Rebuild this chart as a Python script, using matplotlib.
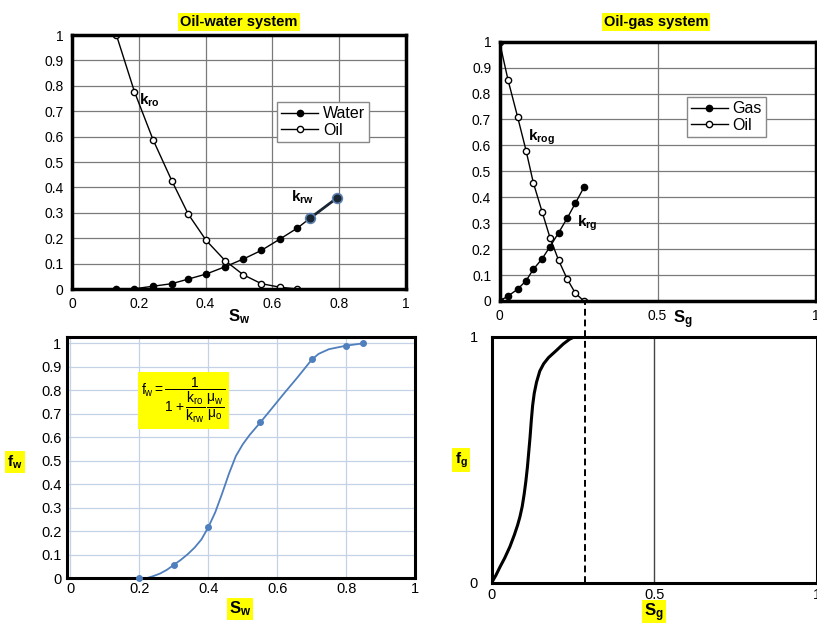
import matplotlib.pyplot as plt
from matplotlib.ticker import FormatStrFormatter, MultipleLocator

plt.rcParams['font.family'] = ['Liberation Sans', 'DejaVu Sans']
plt.rcParams['mathtext.fontset'] = 'custom'
plt.rcParams['mathtext.rm'] = 'Liberation Sans'
plt.rcParams['mathtext.it'] = 'Liberation Sans'
plt.rcParams['mathtext.bf'] = 'Liberation Sans:bold'

# Нефть-вода: относительные проницаемости
sw = [0.133, 0.187, 0.243, 0.299, 0.348, 0.402, 0.459, 0.513, 0.567, 0.623, 0.675]
kro = [1.0, 0.777, 0.587, 0.426, 0.295, 0.191, 0.111, 0.056, 0.021, 0.007, 0.0]
sw_water = [0.133, 0.187, 0.243, 0.299, 0.348, 0.402, 0.459, 0.513, 0.567, 0.623, 0.675, 0.713, 0.793]
krw = [0.0, 0.001, 0.011, 0.021, 0.039, 0.059, 0.088, 0.118, 0.152, 0.197, 0.240, 0.279, 0.358]

# Нефть-газ: относительные проницаемости
sg = [0.0, 0.027, 0.057, 0.084, 0.107, 0.135, 0.16, 0.187, 0.214, 0.24, 0.267]
krog = [1.0, 0.852, 0.711, 0.580, 0.456, 0.343, 0.243, 0.157, 0.085, 0.030, 0.0]
krg = [0.0, 0.019, 0.045, 0.078, 0.122, 0.163, 0.210, 0.263, 0.319, 0.377, 0.438]

# Доля воды в потоке (точки и кривая)
sw_pts = [0.2, 0.3, 0.4, 0.55, 0.7, 0.8, 0.85]
fw_pts = [0.0, 0.057, 0.217, 0.665, 0.933, 0.99, 1.0]
sw_curve = [0.20, 0.22, 0.24, 0.26, 0.28, 0.30, 0.32, 0.34, 0.36, 0.38, 0.40, 0.42, 0.44,
            0.46, 0.48, 0.50, 0.52, 0.552, 0.58, 0.62, 0.66, 0.70, 0.72, 0.75, 0.80, 0.85]
fw_curve = [-0.008, 0.0, 0.009, 0.020, 0.036, 0.057, 0.078, 0.102, 0.130, 0.165, 0.217, 0.280, 0.360,
            0.445, 0.520, 0.570, 0.610, 0.665, 0.715, 0.787, 0.857, 0.930, 0.955, 0.975, 0.990, 1.0]

# Доля газа в потоке
sg_curve = [0.0, 0.013, 0.026, 0.04, 0.056, 0.07, 0.08, 0.087, 0.094, 0.100, 0.105, 0.110, 0.114,
            0.118, 0.122, 0.126, 0.131, 0.138, 0.148, 0.16, 0.175, 0.20, 0.22, 0.24, 0.256, 0.286]
fg_curve = [0.0, 0.03, 0.065, 0.10, 0.146, 0.195, 0.235, 0.268, 0.31, 0.36, 0.41, 0.47, 0.53,
            0.59, 0.66, 0.72, 0.77, 0.815, 0.86, 0.89, 0.915, 0.945, 0.97, 0.99, 1.0, 1.0]
sg_end = 0.286

fig = plt.figure(figsize=(8.17, 6.23), dpi=100)
ax1 = fig.add_axes([0.0881, 0.5361, 0.4088, 0.4077])
ax2 = fig.add_axes([0.6114, 0.5169, 0.3868, 0.4162])
ax3 = fig.add_axes([0.0820, 0.0718, 0.4260, 0.3873])
ax4 = fig.add_axes([0.6018, 0.0647, 0.3978, 0.3949])

hl = dict(facecolor='yellow', edgecolor='none', pad=1.5)
leg_kw = dict(loc='upper left', fontsize=11.5, fancybox=False, edgecolor='#888888', framealpha=1,
              borderpad=0.25, handlelength=2.3, handletextpad=0.3, labelspacing=0.1, borderaxespad=0)

# --- Oil-water system ---
ax1.plot(sw_water, krw, '-o', color='black', lw=1, ms=4.5, label='Water')
ax1.plot(sw, kro, '-o', color='black', lw=1, ms=4.5, mfc='white', mec='black', label='Oil')
ax1.plot(sw_water[-2:], krw[-2:], '-o', color='#1b2633', lw=2, ms=7, mec='#5b7fb0', mew=1.2)
ax1.set_xlim(0, 1)
ax1.set_ylim(0, 1)
ax1.xaxis.set_major_locator(MultipleLocator(0.2))
ax1.yaxis.set_major_locator(MultipleLocator(0.1))
ax1.text(0.2, 0.744, r'$\mathbf{k_{ro}}$', fontsize=11, ha='left', va='center')
ax1.text(0.655, 0.362, r'$\mathbf{k_{rw}}$', fontsize=11, ha='left', va='center')
ax1.text(0.5, -0.11, r'$\mathbf{S_w}$', fontsize=12, ha='center', va='center', transform=ax1.transAxes)
ax1.legend(bbox_to_anchor=(0.615, 0.735), **leg_kw)
fig.text(239 / 817, 1 - 22 / 623, 'Oil-water system', fontsize=10.5, fontweight='bold',
         ha='center', va='center', bbox=hl)

# --- Oil-gas system ---
ax2.plot(sg, krg, '-o', color='black', lw=1, ms=4.5, label='Gas')
ax2.plot(sg, krog, '-o', color='black', lw=1, ms=4.5, mfc='white', mec='black', label='Oil')
ax2.set_xlim(0, 1)
ax2.set_ylim(0, 1)
ax2.xaxis.set_major_locator(MultipleLocator(0.5))
ax2.yaxis.set_major_locator(MultipleLocator(0.1))
ax2.text(0.09, 0.63, r'$\mathbf{k_{rog}}$', fontsize=11, ha='left', va='center')
ax2.text(0.245, 0.30, r'$\mathbf{k_{rg}}$', fontsize=11, ha='left', va='center')
ax2.text(0.58, -0.073, r'$\mathbf{S_g}$', fontsize=12, ha='center', va='center', transform=ax2.transAxes)
ax2.legend(bbox_to_anchor=(0.593, 0.785), **leg_kw)
fig.text(656 / 817, 1 - 22 / 623, 'Oil-gas system', fontsize=10.5, fontweight='bold',
         ha='center', va='center', bbox=hl)

for ax in (ax1, ax2):
    ax.grid(True, color='#7a7a7a', lw=0.9)
    ax.set_axisbelow(True)
    ax.xaxis.set_major_formatter(FormatStrFormatter('%g'))
    ax.yaxis.set_major_formatter(FormatStrFormatter('%g'))
    ax.tick_params(length=0, labelsize=10, pad=6)
    for s in ax.spines.values():
        s.set_linewidth(2.5)

# --- fw ---
ax3.plot(sw_curve, fw_curve, '-', color='#4f7fbd', lw=1.3)
ax3.plot(sw_pts, fw_pts, 'o', color='#4f7fbd', ms=4, clip_on=False, zorder=3)
ax3.set_xlim(-0.01, 1)
ax3.set_ylim(0, 1.027)
ax3.xaxis.set_major_locator(MultipleLocator(0.2))
ax3.yaxis.set_major_locator(MultipleLocator(0.1))
ax3.xaxis.set_major_formatter(FormatStrFormatter('%g'))
ax3.yaxis.set_major_formatter(FormatStrFormatter('%g'))
ax3.grid(True, color='#c3d2e6', lw=0.9)
ax3.set_axisbelow(True)
ax3.tick_params(length=0, labelsize=10.5, pad=4)
ax3.tick_params(axis='x', pad=3)
for s in ax3.spines.values():
    s.set_linewidth(2.2)
ax3.text(0.328, 0.757, r'$f_w=\dfrac{1}{1+\dfrac{k_{ro}}{k_{rw}}\,\dfrac{\mu_w}{\mu_o}}$',
         fontsize=10, ha='center', va='center',
         bbox=dict(facecolor='yellow', edgecolor='none', pad=2.5))
fig.text(240 / 817, 1 - 609 / 623, r'$\mathbf{S_w}$', fontsize=12, ha='center', va='center', bbox=hl)
fig.text(15 / 817, 1 - 462 / 623, r'$\mathbf{f_w}$', fontsize=11, ha='center', va='center', bbox=hl)

# --- fg ---
ax4.plot(sg_curve, fg_curve, '-', color='black', lw=2.2, solid_capstyle='round', solid_joinstyle='round')
ax4.plot([sg_end, sg_end], [0, 1.137], ls=(0, (3.5, 2)), color='black', lw=1.4, clip_on=False)
ax4.axvline(0.5, color='#444444', lw=1)
ax4.set_xlim(0, 1)
ax4.set_ylim(0, 1)
ax4.set_xticks([0, 0.5, 1])
ax4.set_yticks([0, 1])
ax4.xaxis.set_major_formatter(FormatStrFormatter('%g'))
ax4.yaxis.set_major_formatter(FormatStrFormatter('%g'))
ax4.tick_params(length=0, labelsize=10.5, pad=4)
ax4.tick_params(axis='y', pad=10)
for s in ax4.spines.values():
    s.set_linewidth(2.2)
fig.text(654 / 817, 1 - 613 / 623, r'$\mathbf{S_g}$', fontsize=12, ha='center', va='center', bbox=hl)
fig.text(461 / 817, 1 - 460 / 623, r'$\mathbf{f_g}$', fontsize=11, ha='center', va='center', bbox=hl)

plt.savefig('out.png', dpi=100)
plt.close()
